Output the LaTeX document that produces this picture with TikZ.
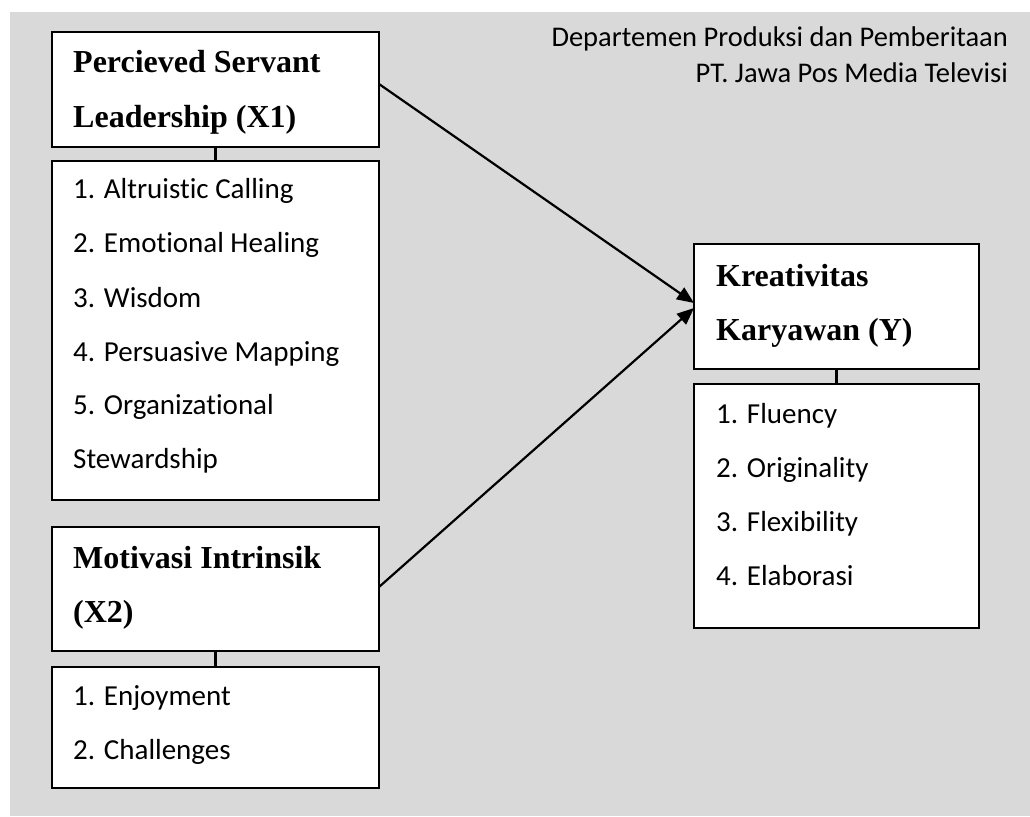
\documentclass[tikz,border=0pt]{standalone}
\usepackage{fontspec}
\setmainfont{Liberation Serif}
\newfontfamily\listfont[Ligatures=NoCommon]{Carlito}
\usetikzlibrary{arrows.meta}
\definecolor{bggray}{HTML}{D9D9D9}
\tikzset{
  box/.style={draw=black, fill=white, line width=2.2pt, inner sep=0pt, outer sep=0pt, rectangle},
  head/.style={anchor=base west, inner sep=0pt, font=\fontsize{32}{32}\selectfont\bfseries},
  item/.style={anchor=base west, inner sep=0pt, font=\fontsize{29}{29}\selectfont\listfont},
  note/.style={anchor=base east, inner sep=0pt, font=\fontsize{28.5}{28.5}\selectfont\listfont},
  link/.style={line width=2.2pt, black},
  arr/.style={line width=2.2pt, black, -{Triangle[length=17pt,width=14pt]}}
}
\newcommand\mybox[5]{\node[box, minimum width={#4-#2}, minimum height={#5-#3}] (#1) at ({(#2+#4)/2},{(#3+#5)/2}) {};}
\begin{document}
\begin{tikzpicture}[x=1pt,y=-1pt]
\fill[white] (0,0) rectangle (1030,816);
\fill[bggray] (10,12) rectangle (1030,816);
\useasboundingbox (0,0) rectangle (1030,816);

\mybox{x1h}{52}{32}{379}{147}
\mybox{x1l}{52}{161}{379}{500}
\mybox{x2h}{52}{527}{379}{651}
\mybox{x2l}{52}{667}{379}{788}
\mybox{yh}{694}{244}{979}{369}
\mybox{yl}{694}{384}{979}{628}

\draw[link] (x1h.south) -- (x1l.north);
\draw[link] (x2h.south) -- (x2l.north);
\draw[link] (yh.south) -- (yl.north);

\draw[arr] ([yshift=5.5pt]x1h.east) -- ([yshift=3.5pt]yh.west);
\draw[arr] ([yshift=2pt]x2h.east) -- ([yshift=-1.5pt]yh.west);

\node[head] (t1a) at (73,72) {Percieved Servant};
\node[head] (t1b) at (73,127) {Leadership (X1)};
\node[item] (i1a) at (73,198) {1. Altruistic Calling};
\node[item] (i1b) at (73,252) {2. Emotional Healing};
\node[item] (i1c) at (73,307) {3. Wisdom};
\node[item] (i1d) at (73,361) {4. Persuasive Mapping};
\node[item] (i1e) at (73,414) {5. Organizational};
\node[item] (i1f) at (73,468) {Stewardship};

\node[head] (t2a) at (73,568) {Motivasi Intrinsik};
\node[head] (t2b) at (73,622) {(X2)};
\node[item] (i2a) at (73,705) {1. Enjoyment};
\node[item] (i2b) at (73,759) {2. Challenges};

\node[head] (tya) at (716,286) {Kreativitas};
\node[head] (tyb) at (716,340) {Karyawan (Y)};
\node[item] (iya) at (716,423) {1. Fluency};
\node[item] (iyb) at (716,477) {2. Originality};
\node[item] (iyc) at (716,531) {3. Flexibility};
\node[item] (iyd) at (716,585) {4. Elaborasi};

\node[note] (n1) at (1008,47) {Departemen Produksi dan Pemberitaan};
\node[note] (n2) at (1008,82) {PT. Jawa Pos Media Televisi};
\end{tikzpicture}
\end{document}
